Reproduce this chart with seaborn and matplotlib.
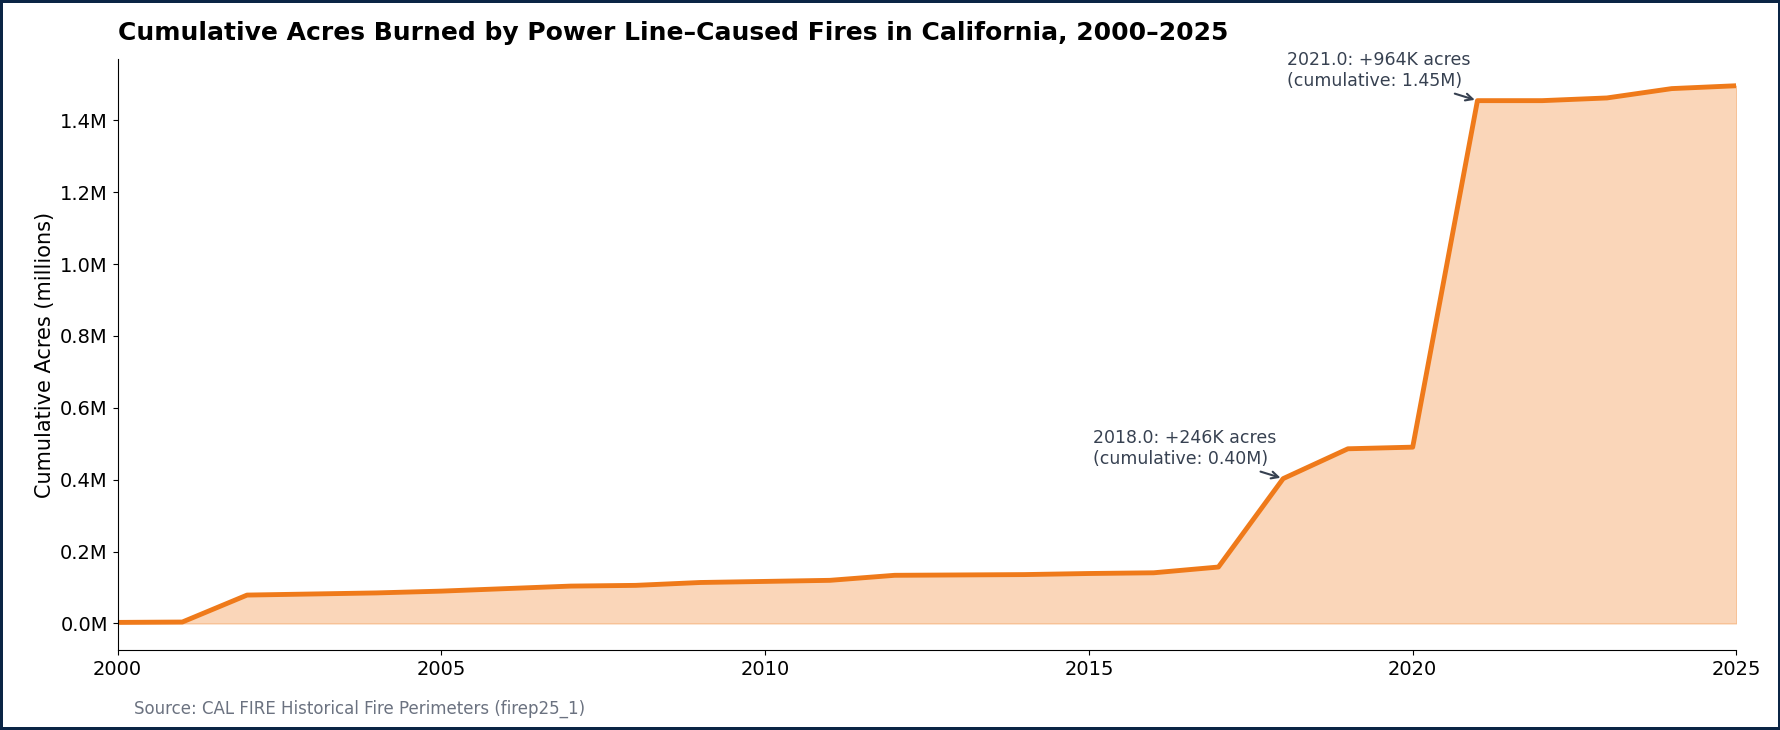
import matplotlib
matplotlib.use('Agg')
import matplotlib.pyplot as plt
import seaborn as sns
import pandas as pd
from matplotlib.ticker import FuncFormatter

years = list(range(2000, 2026))
cumulative_m = [0.003, 0.004, 0.079, 0.082, 0.085, 0.090, 0.097, 0.104, 0.106, 0.114,
                0.117, 0.120, 0.134, 0.135, 0.136, 0.139, 0.141, 0.157, 0.403, 0.486,
                0.4905, 1.4545, 1.4545, 1.462, 1.488, 1.496]

df = pd.DataFrame({'year': years, 'acres': cumulative_m})

sns.set_style('ticks')
plt.rcParams['text.color'] = 'black'
plt.rcParams['xtick.color'] = 'black'
plt.rcParams['ytick.color'] = 'black'
plt.rcParams['axes.labelcolor'] = 'black'
plt.rcParams['axes.edgecolor'] = 'black'

fig = plt.figure(figsize=(17.81, 7.30), dpi=100)
fig.patch.set_edgecolor('#0b2545')
fig.patch.set_linewidth(4)
ax = fig.add_axes([0.066, 0.109, 0.909, 0.81])

color = '#ef7a1a'
ax.fill_between(df['year'], df['acres'], color=color, alpha=0.3, linewidth=1)
sns.lineplot(data=df, x='year', y='acres', ax=ax, color=color, linewidth=3.5)

ax.set_xlim(2000, 2025)
ax.set_ylim(-0.075, 1.57)
ax.set_yticks([0, 0.2, 0.4, 0.6, 0.8, 1.0, 1.2, 1.4])
ax.yaxis.set_major_formatter(FuncFormatter(lambda v, p: f'{v:.1f}M'))
ax.tick_params(labelsize=14)
ax.set_xlabel('')
ax.set_ylabel('Cumulative Acres (millions)', fontsize=15)
sns.despine(ax=ax)

ax.set_title('Cumulative Acres Burned by Power Line\u2013Caused Fires in California, 2000\u20132025',
             fontsize=18, fontweight='bold', loc='left', pad=14)

for yr in [2018, 2021]:
    i = years.index(yr)
    inc = (cumulative_m[i] - cumulative_m[i - 1]) * 1000
    ax.annotate(f'{float(yr)}: +{inc:.0f}K acres\n(cumulative: {cumulative_m[i]:.2f}M)',
                xy=(yr, cumulative_m[i]), xytext=(-137, 8), textcoords='offset points',
                ha='left', va='bottom', fontsize=12.5, color='#374151',
                arrowprops=dict(arrowstyle='->', color='#374151', lw=1.5))

fig.text(0.075, 0.022, 'Source: CAL FIRE Historical Fire Perimeters (firep25_1)',
         fontsize=12, color='#6b7280')

fig.savefig('out.png', dpi=100, edgecolor=fig.get_edgecolor())
